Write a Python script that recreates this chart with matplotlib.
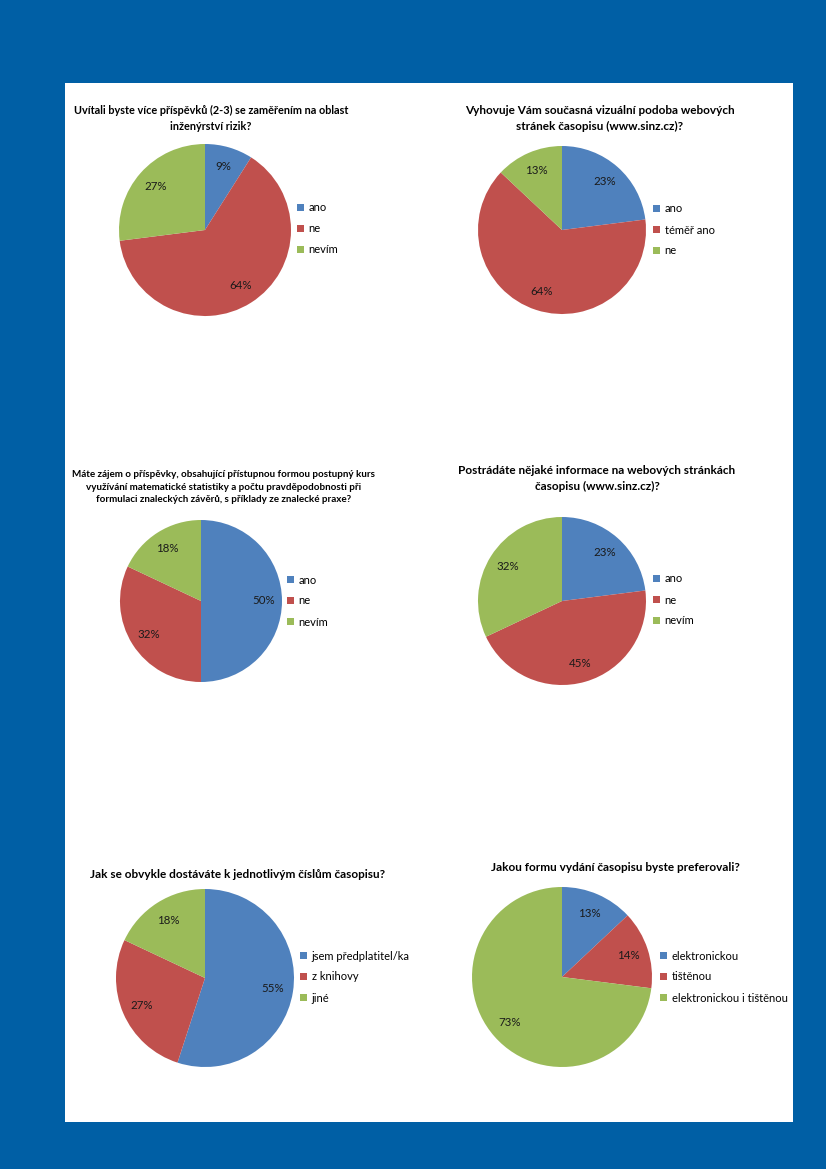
import matplotlib
matplotlib.use("Agg")
import matplotlib.pyplot as plt

plt.rcParams['font.family'] = ['Lato', 'DejaVu Sans']

W, H = 826, 1169
BG = '#005FA5'
COLORS = ['#4F81BD', '#C0504D', '#9BBB59']

# ---- data ----
titles = [
    "Uvítali byste více příspěvků (2-3) se zaměřením na oblast\ninženýrství rizik?",
    "Vyhovuje Vám současná vizuální podoba webových\nstránek časopisu (www.sinz.cz)?",
    "Máte zájem o příspěvky, obsahující přístupnou formou postupný kurs\nvyužívání matematické statistiky a počtu pravděpodobnosti při\nformulaci znaleckých závěrů, s příklady ze znalecké praxe?",
    "Postrádáte nějaké informace na webových stránkách\nčasopisu (www.sinz.cz)?",
    "Jak se obvykle dostáváte k jednotlivým číslům časopisu?",
    "Jakou formu vydání časopisu byste preferovali?",
]
labels1 = ["ano", "ne", "nevím"]
values1 = [9, 64, 27]
labels2 = ["ano", "téměř ano", "ne"]
values2 = [23, 64, 13]
labels3 = ["ano", "ne", "nevím"]
values3 = [50, 32, 18]
labels4 = ["ano", "ne", "nevím"]
values4 = [23, 45, 32]
labels5 = ["jsem předplatitel/ka", "z knihovy", "jiné"]
values5 = [55, 27, 18]
labels6 = ["elektronickou", "tištěnou", "elektronickou i tištěnou"]
values6 = [13, 14, 73]

charts = [
    (titles[0], labels1, values1),
    (titles[1], labels2, values2),
    (titles[2], labels3, values3),
    (titles[3], labels4, values4),
    (titles[4], labels5, values5),
    (titles[5], labels6, values6),
]

# layout (pixels): pie centre x, y, radius, title centre x, title top y, title size, legend x, legend y centre
layout = [
    (205, 230, 86, 211, 105, 7.8, 297, 229),
    (562, 230, 84, 600, 105, 8.5, 653, 230),
    (201, 601, 81, 224, 470, 7.1, 287, 601),
    (562, 601, 84, 597, 465, 8.5, 653, 600),
    (205, 978, 89, 238, 869, 8.5, 300, 977),
    (562, 977, 90, 615, 862, 8.5, 660, 977),
]

fig = plt.figure(figsize=(W / 100, H / 100), dpi=100)
fig.patch.set_facecolor(BG)

# white panel
panel = fig.add_axes([65 / W, 1 - 1122 / H, (793 - 65) / W, (1122 - 83) / H])
panel.set_facecolor('white')
panel.set_xticks([]); panel.set_yticks([])
for s in panel.spines.values():
    s.set_visible(False)

for (title, labels, values), (cx, cy, r, tx, ty, tsz, lx, ly) in zip(charts, layout):
    ax = fig.add_axes([(cx - r) / W, 1 - (cy + r) / H, 2 * r / W, 2 * r / H])
    wedges, texts, autotexts = ax.pie(
        values, colors=COLORS, startangle=90, counterclock=False,
        autopct='%1.0f%%', pctdistance=0.77, radius=1.0,
        wedgeprops=dict(linewidth=0),
        textprops=dict(fontsize=8.3, color='#1a1a1a'))
    ax.set_xlim(-1, 1); ax.set_ylim(-1, 1)
    ax.set_aspect('equal')
    ax.axis('off')
    fig.text(tx / W, 1 - ty / H, title, ha='center', va='top', fontsize=tsz,
             fontweight='bold', linespacing=1.5)
    fig.legend(wedges, labels, loc='center left',
               bbox_to_anchor=(lx / W, 1 - ly / H), bbox_transform=fig.transFigure,
               frameon=False, fontsize=8.0, handlelength=0.65, handleheight=0.65,
               handletextpad=0.4, labelspacing=0.9, borderpad=0, borderaxespad=0)

fig.savefig('out.png', dpi=100, facecolor=BG)
